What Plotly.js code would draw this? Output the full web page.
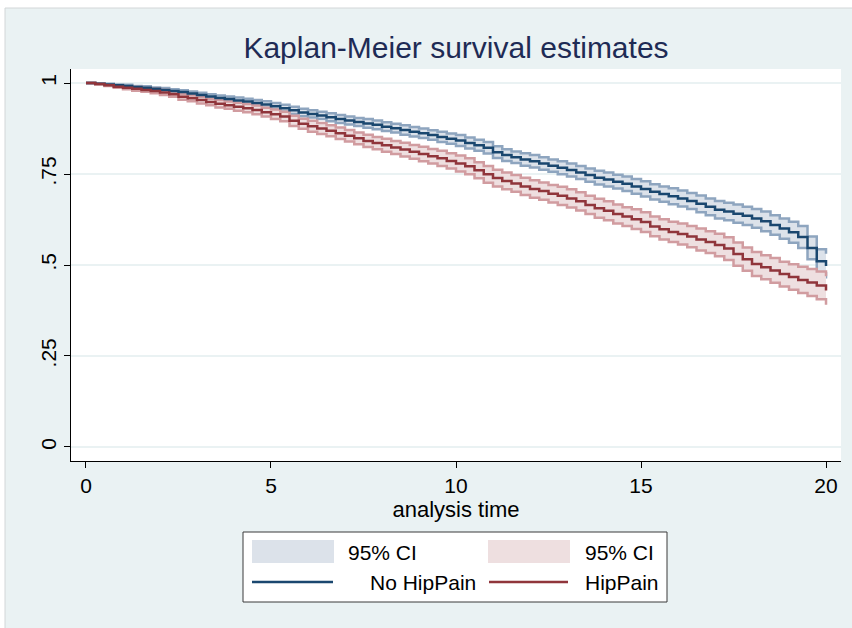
<!DOCTYPE html>
<html>
<head>
<meta charset="utf-8">
<script src="https://cdn.plot.ly/plotly-3.0.1.min.js"></script>
<style>html,body{margin:0;padding:0;background:#fff;}#chart{width:852px;height:628px;}</style>
</head>
<body>
<div id="chart"></div>
<script>
// ---- data ----
const time = [0,0.25,0.5,0.75,1,1.25,1.5,1.75,2,2.25,2.5,2.75,3,3.25,3.5,3.75,4,4.25,4.5,4.75,5,5.25,5.5,5.75,6,6.25,6.5,6.75,7,7.25,7.5,7.75,8,8.25,8.5,8.75,9,9.25,9.5,9.75,10,10.25,10.5,10.75,11,11.25,11.5,11.75,12,12.25,12.5,12.75,13,13.25,13.5,13.75,14,14.25,14.5,14.75,15,15.25,15.5,15.75,16,16.25,16.5,16.75,17,17.25,17.5,17.75,18,18.25,18.5,18.75,19,19.25,19.5,19.75,20];

const noHipPain = [1.000,0.998,0.996,0.994,0.992,0.989,0.987,0.984,0.981,0.978,0.975,0.971,0.967,0.963,0.959,0.956,0.952,0.949,0.945,0.941,0.936,0.931,0.925,0.919,0.915,0.911,0.906,0.901,0.897,0.893,0.889,0.885,0.880,0.876,0.871,0.866,0.862,0.857,0.852,0.847,0.842,0.835,0.829,0.822,0.810,0.802,0.796,0.790,0.785,0.779,0.773,0.767,0.761,0.754,0.747,0.740,0.735,0.729,0.723,0.716,0.709,0.701,0.695,0.689,0.683,0.676,0.668,0.660,0.652,0.647,0.641,0.635,0.628,0.620,0.610,0.600,0.590,0.577,0.547,0.510,0.497];
const noHipPainHi = [1.000,0.999,0.998,0.996,0.995,0.992,0.991,0.988,0.986,0.983,0.980,0.977,0.973,0.969,0.966,0.963,0.960,0.957,0.953,0.950,0.945,0.940,0.935,0.929,0.925,0.921,0.917,0.912,0.908,0.904,0.901,0.897,0.892,0.888,0.884,0.879,0.875,0.870,0.866,0.861,0.857,0.850,0.844,0.838,0.826,0.818,0.812,0.807,0.802,0.796,0.790,0.785,0.779,0.772,0.765,0.759,0.754,0.748,0.743,0.736,0.730,0.722,0.716,0.711,0.705,0.698,0.691,0.683,0.676,0.671,0.666,0.660,0.654,0.647,0.637,0.628,0.619,0.607,0.578,0.543,0.531];
const noHipPainLo = [1.000,0.997,0.994,0.992,0.989,0.986,0.983,0.980,0.976,0.973,0.970,0.965,0.961,0.957,0.952,0.949,0.944,0.941,0.937,0.932,0.927,0.922,0.915,0.909,0.905,0.901,0.895,0.890,0.886,0.882,0.877,0.873,0.868,0.864,0.858,0.853,0.849,0.844,0.838,0.833,0.827,0.820,0.814,0.806,0.794,0.786,0.780,0.773,0.768,0.762,0.756,0.749,0.743,0.736,0.729,0.721,0.716,0.710,0.703,0.696,0.688,0.680,0.674,0.667,0.661,0.654,0.645,0.637,0.628,0.623,0.616,0.610,0.602,0.593,0.583,0.572,0.561,0.547,0.516,0.477,0.463];

const hipPain = [1.000,0.997,0.994,0.990,0.987,0.984,0.981,0.978,0.974,0.969,0.962,0.958,0.953,0.948,0.943,0.939,0.935,0.931,0.926,0.920,0.914,0.908,0.896,0.888,0.881,0.875,0.869,0.862,0.855,0.848,0.841,0.835,0.829,0.823,0.817,0.811,0.805,0.799,0.793,0.786,0.779,0.771,0.760,0.749,0.739,0.731,0.724,0.716,0.709,0.703,0.696,0.690,0.683,0.675,0.665,0.656,0.649,0.640,0.633,0.626,0.618,0.606,0.598,0.591,0.585,0.578,0.570,0.563,0.555,0.545,0.530,0.516,0.503,0.494,0.485,0.475,0.467,0.459,0.452,0.444,0.430];
const hipPainHi = [1.000,0.998,0.996,0.993,0.991,0.989,0.986,0.984,0.981,0.976,0.970,0.966,0.962,0.957,0.953,0.949,0.946,0.942,0.938,0.932,0.927,0.921,0.910,0.902,0.896,0.890,0.884,0.878,0.871,0.864,0.858,0.852,0.847,0.841,0.836,0.830,0.825,0.819,0.814,0.807,0.801,0.793,0.782,0.772,0.762,0.754,0.747,0.740,0.733,0.727,0.720,0.715,0.708,0.700,0.690,0.682,0.675,0.666,0.659,0.653,0.645,0.633,0.626,0.619,0.614,0.607,0.600,0.593,0.586,0.576,0.562,0.548,0.536,0.527,0.519,0.509,0.502,0.495,0.489,0.482,0.469];
const hipPainLo = [1.000,0.996,0.992,0.987,0.983,0.979,0.976,0.972,0.967,0.962,0.954,0.950,0.944,0.939,0.933,0.929,0.924,0.920,0.914,0.908,0.901,0.895,0.882,0.874,0.866,0.860,0.854,0.846,0.839,0.832,0.824,0.818,0.811,0.805,0.798,0.792,0.785,0.779,0.772,0.765,0.757,0.749,0.738,0.726,0.716,0.708,0.701,0.692,0.685,0.679,0.672,0.665,0.658,0.650,0.640,0.630,0.623,0.614,0.607,0.599,0.591,0.579,0.570,0.563,0.556,0.549,0.540,0.533,0.524,0.514,0.498,0.484,0.470,0.461,0.451,0.441,0.432,0.423,0.415,0.406,0.391];

const xTicks = [0,5,10,15,20];
const yTicks = [0,0.25,0.5,0.75,1];
const yTickText = ['0','.25','.5','.75','1'];
const legendLabels = ['95% CI','95% CI','No HipPain','HipPain'];

// ---- styles ----
const FONT = '"Liberation Sans", Arial, Helvetica, sans-serif';
const BLUE = '#1a476f', BLUE_CI_LINE = '#8ea5bf', BLUE_CI_FILL = '#dce2ea';
const RED = '#90353b', RED_CI_LINE = '#d19ca0', RED_CI_FILL = '#eedfe0';
const BG = '#eaf2f3';

const traces = [
  {x: time, y: noHipPainLo, mode: 'lines', line: {shape: 'hv', color: BLUE_CI_LINE, width: 2.5}, showlegend: false, hoverinfo: 'skip'},
  {x: time, y: noHipPainHi, mode: 'lines', fill: 'tonexty', fillcolor: BLUE_CI_FILL, line: {shape: 'hv', color: BLUE_CI_LINE, width: 2.5}, showlegend: false, hoverinfo: 'skip'},
  {x: time, y: hipPainLo, mode: 'lines', line: {shape: 'hv', color: RED_CI_LINE, width: 2.5}, showlegend: false, hoverinfo: 'skip'},
  {x: time, y: hipPainHi, mode: 'lines', fill: 'tonexty', fillcolor: RED_CI_FILL, line: {shape: 'hv', color: RED_CI_LINE, width: 2.5}, showlegend: false, hoverinfo: 'skip'},
  {x: time, y: noHipPain, mode: 'lines', name: legendLabels[2], line: {shape: 'hv', color: BLUE, width: 2.5}, showlegend: false},
  {x: time, y: hipPain, mode: 'lines', name: legendLabels[3], line: {shape: 'hv', color: RED, width: 2.5}, showlegend: false}
];

// paper-coordinate helpers for the legend box (plot area: x 71..841, y 69..461)
const px = v => (v - 71) / 770;
const py = v => (461 - v) / 392;

const shapes = [
  // white margin strips + light frame of the graph region
  {type: 'rect', xref: 'paper', yref: 'paper', x0: px(-10), x1: px(5), y0: py(700), y1: py(-10), fillcolor: '#ffffff', line: {width: 0}, layer: 'below'},
  {type: 'rect', xref: 'paper', yref: 'paper', x0: px(-10), x1: px(900), y0: py(8), y1: py(-10), fillcolor: '#ffffff', line: {width: 0}, layer: 'below'},
  {type: 'line', xref: 'paper', yref: 'paper', x0: px(5), x1: px(5), y0: py(700), y1: py(8), line: {color: '#d2d6d8', width: 1}},
  {type: 'line', xref: 'paper', yref: 'paper', x0: px(5), x1: px(900), y0: py(8), y1: py(8), line: {color: '#d2d6d8', width: 1}},
  // legend frame
  {type: 'rect', xref: 'paper', yref: 'paper', x0: px(243), x1: px(667), y0: py(602), y1: py(532), fillcolor: '#ffffff', line: {color: '#3a3a3a', width: 1}},
  // legend keys
  {type: 'rect', xref: 'paper', yref: 'paper', x0: px(252), x1: px(334), y0: py(563), y1: py(540), fillcolor: BLUE_CI_FILL, line: {width: 0}},
  {type: 'rect', xref: 'paper', yref: 'paper', x0: px(488), x1: px(570), y0: py(563), y1: py(540), fillcolor: RED_CI_FILL, line: {width: 0}},
  {type: 'line', xref: 'paper', yref: 'paper', x0: px(252), x1: px(333), y0: py(582), y1: py(582), line: {color: BLUE, width: 2.5}},
  {type: 'line', xref: 'paper', yref: 'paper', x0: px(489), x1: px(568), y0: py(582), y1: py(582), line: {color: RED, width: 2.5}}
];

const annotations = [
  {text: legendLabels[0], xref: 'paper', yref: 'paper', x: px(346), y: py(552), xanchor: 'left', yanchor: 'middle', showarrow: false, font: {family: FONT, size: 21, color: '#000'}},
  {text: legendLabels[1], xref: 'paper', yref: 'paper', x: px(583), y: py(552), xanchor: 'left', yanchor: 'middle', showarrow: false, font: {family: FONT, size: 21, color: '#000'}},
  {text: legendLabels[2], xref: 'paper', yref: 'paper', x: px(478), y: py(582), xanchor: 'right', yanchor: 'middle', showarrow: false, font: {family: FONT, size: 21, color: '#000'}},
  {text: legendLabels[3], xref: 'paper', yref: 'paper', x: px(583), y: py(582), xanchor: 'left', yanchor: 'middle', showarrow: false, font: {family: FONT, size: 21, color: '#000'}}
];

const layout = {
  width: 852, height: 628,
  margin: {l: 71, r: 11, t: 69, b: 167, pad: 0},
  paper_bgcolor: BG, plot_bgcolor: '#ffffff',
  font: {family: FONT, color: '#000'},
  showlegend: false,
  title: {text: 'Kaplan-Meier survival estimates', font: {family: FONT, size: 30, color: '#1e2b55'}, xref: 'paper', x: 0.5, xanchor: 'center', yref: 'container', y: 1 - 47/628, yanchor: 'middle'},
  xaxis: {
    range: [-0.405, 20.405], tickmode: 'array', tickvals: xTicks,
    ticks: 'outside', ticklen: 6, tickwidth: 1, tickcolor: '#000',
    showline: true, linecolor: '#000', linewidth: 1, mirror: false,
    showgrid: false, zeroline: false,
    tickfont: {family: FONT, size: 21, color: '#000'},
    title: {text: 'analysis time', font: {family: FONT, size: 22, color: '#000'}, standoff: 2}
  },
  yaxis: {
    range: [-0.0385, 1.0385], tickmode: 'array', tickvals: yTicks, ticktext: yTickText,
    tickangle: -90,
    ticks: 'outside', ticklen: 6, tickwidth: 1, tickcolor: '#000',
    showline: true, linecolor: '#000', linewidth: 1,
    showgrid: true, gridcolor: BG, gridwidth: 1.5, zeroline: false,
    tickfont: {family: FONT, size: 21, color: '#000'}
  },
  shapes: shapes,
  annotations: annotations
};

Plotly.newPlot('chart', traces, layout, {displayModeBar: false, staticPlot: true});
</script>
</body>
</html>
